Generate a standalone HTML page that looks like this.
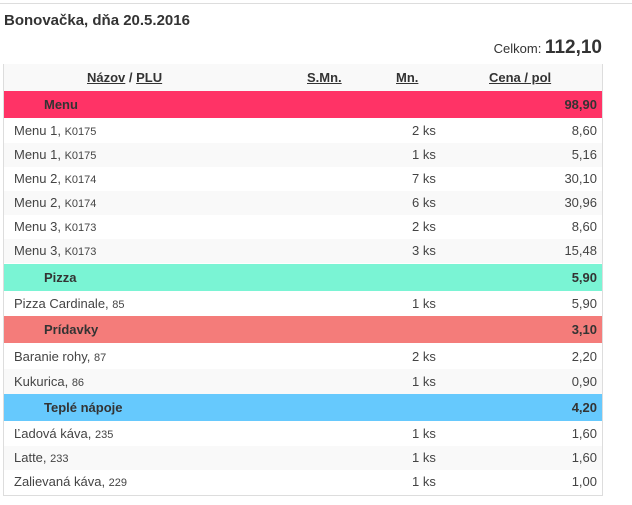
<!DOCTYPE html>
<html><head><meta charset="utf-8"><style>
body{margin:0;width:632px;height:505px;background:#fff;font-family:"Liberation Sans",Arial,sans-serif;color:#333;position:relative;overflow:hidden}
.a{position:absolute}
.r{position:absolute;left:4px;width:598px;font-size:13px;color:#444}
.r span{position:absolute;top:0}
.n{left:10px}.n small{font-size:11px}
.m{left:408px}
.p{right:5px}
.c{font-weight:bold;color:#333}
.c .n{left:40px}
</style></head><body>
<div class="a" style="left:0;top:3px;width:632px;height:1px;background:#ddd"></div>
<div class="a" style="left:4px;top:12px;font-size:15px;font-weight:bold;color:#333">Bonovačka, dňa 20.5.2016</div>
<div class="a" style="right:30px;top:37px;font-size:13px;color:#333;white-space:nowrap">Celkom: <b style="font-size:19px">112,10</b></div>
<div class="a" style="left:3px;top:64px;width:598px;height:430px;border:1px solid #ddd"></div>
<div class="r" style="top:64px;height:27px;background:#f9f9f9;line-height:27px;font-weight:bold;color:#333">
<span style="left:83px;white-space:nowrap"><u>Názov</u> / <u>PLU</u></span>
<span style="left:303px;text-decoration:underline">S.Mn.</span><span style="left:392px;text-decoration:underline">Mn.</span><span style="left:485px;text-decoration:underline">Cena / pol</span></div>

<div class="r c" style="top:91px;height:27px;line-height:27px;background:#ff3366"><span class="n">Menu</span><span class="p">98,90</span></div>
<div class="r" style="top:119px;height:24px;line-height:24px;background:#fff;border-bottom:1px solid #eee"><span class="n">Menu 1, <small>K0175</small></span><span class="m">2 ks</span><span class="p">8,60</span></div>
<div class="r" style="top:143px;height:24px;line-height:24px;background:#f9f9f9;border-bottom:1px solid #eee"><span class="n">Menu 1, <small>K0175</small></span><span class="m">1 ks</span><span class="p">5,16</span></div>
<div class="r" style="top:167px;height:24px;line-height:24px;background:#fff;border-bottom:1px solid #eee"><span class="n">Menu 2, <small>K0174</small></span><span class="m">7 ks</span><span class="p">30,10</span></div>
<div class="r" style="top:191px;height:24px;line-height:24px;background:#f9f9f9;border-bottom:1px solid #eee"><span class="n">Menu 2, <small>K0174</small></span><span class="m">6 ks</span><span class="p">30,96</span></div>
<div class="r" style="top:215px;height:24px;line-height:24px;background:#fff;border-bottom:1px solid #eee"><span class="n">Menu 3, <small>K0173</small></span><span class="m">2 ks</span><span class="p">8,60</span></div>
<div class="r" style="top:239px;height:24px;line-height:24px;background:#f9f9f9"><span class="n">Menu 3, <small>K0173</small></span><span class="m">3 ks</span><span class="p">15,48</span></div>

<div class="r c" style="top:264px;height:27px;line-height:27px;background:#7af4d4"><span class="n">Pizza</span><span class="p">5,90</span></div>
<div class="r" style="top:291px;height:25px;line-height:25px;background:#fff"><span class="n">Pizza Cardinale, <small>85</small></span><span class="m">1 ks</span><span class="p">5,90</span></div>

<div class="r c" style="top:316px;height:27px;line-height:27px;background:#f47c7a"><span class="n">Prídavky</span><span class="p">3,10</span></div>
<div class="r" style="top:345px;height:24px;line-height:24px;background:#fff;border-bottom:1px solid #eee"><span class="n">Baranie rohy, <small>87</small></span><span class="m">2 ks</span><span class="p">2,20</span></div>
<div class="r" style="top:369px;height:25px;line-height:25px;background:#f9f9f9"><span class="n">Kukurica, <small>86</small></span><span class="m">1 ks</span><span class="p">0,90</span></div>

<div class="r c" style="top:394px;height:27px;line-height:27px;background:#66c9fd"><span class="n">Teplé nápoje</span><span class="p">4,20</span></div>
<div class="r" style="top:422px;height:24px;line-height:24px;background:#fff;border-bottom:1px solid #eee"><span class="n">Ľadová káva, <small>235</small></span><span class="m">1 ks</span><span class="p">1,60</span></div>
<div class="r" style="top:446px;height:24px;line-height:24px;background:#f9f9f9;border-bottom:1px solid #eee"><span class="n">Latte, <small>233</small></span><span class="m">1 ks</span><span class="p">1,60</span></div>
<div class="r" style="top:470px;height:24px;line-height:24px;background:#fff"><span class="n">Zalievaná káva, <small>229</small></span><span class="m">1 ks</span><span class="p">1,00</span></div>
</body></html>
